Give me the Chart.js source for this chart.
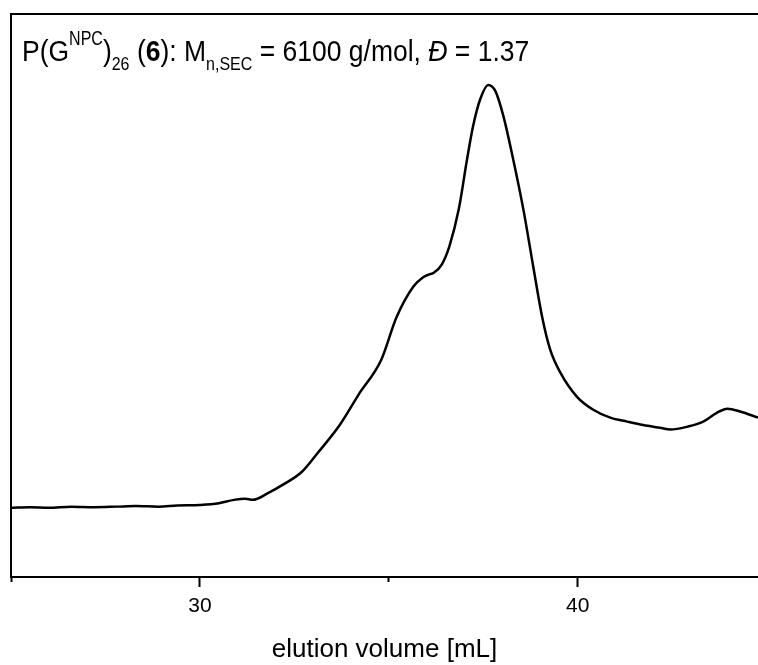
<!DOCTYPE html>
<html>
<head>
<meta charset="utf-8">
<script src="https://cdn.jsdelivr.net/npm/chart.js@4/dist/chart.umd.min.js"></script>
<style>
  html, body { margin: 0; padding: 0; background: #fff; }
  #wrap { width: 758px; height: 665px; }
</style>
</head>
<body>
<div id="wrap"><canvas id="myChart" width="758" height="665"></canvas></div>
<script>
// elution volume in mL, detector signal in arbitrary units (0-100)
let elutionVolume = [25.0, 25.5, 26.0, 26.6, 27.2, 27.8, 28.3, 28.9, 29.4, 30.0, 30.5, 30.9, 31.2, 31.4, 31.8, 32.2, 32.7, 33.1, 33.7, 34.2, 34.8, 35.2, 35.65, 35.9, 36.05, 36.2, 36.4, 36.6, 36.85, 37.07, 37.23, 37.42, 37.63, 37.82, 38.03, 38.29, 38.56, 38.82, 39.06, 39.27, 39.54, 39.98, 40.41, 40.86, 41.31, 41.73, 42.18, 42.45, 42.9, 43.32, 43.69, 43.96, 44.3, 44.77];
let signal = [12.3, 12.4, 12.3, 12.5, 12.4, 12.5, 12.6, 12.5, 12.7, 12.8, 13.1, 13.7, 13.9, 13.7, 14.9, 16.4, 18.7, 21.9, 27.0, 32.4, 38.6, 46.1, 51.6, 53.2, 53.7, 54.1, 55.5, 58.7, 65.3, 74.2, 80.1, 84.9, 87.4, 86.3, 81.9, 74.2, 65.3, 55.2, 46.1, 40.4, 36.3, 32.0, 29.7, 28.3, 27.6, 27.0, 26.5, 26.2, 26.7, 27.6, 29.2, 29.9, 29.4, 28.3];

let xTicksLabelled = [30, 40];

let points = [];
elutionVolume.forEach((v, i) => {
  points.push({ x: v, y: signal[i] });
});

const FONT = "'Liberation Sans', Arial, sans-serif";

// top-left annotation with sub/superscripts (text in the figure is a bit tall/narrow)
const headerText = {
  id: 'headerText',
  afterDraw(chart) {
    const ctx = chart.ctx;
    const parts = [
      { t: 'P(G', size: 26.5, dy: 0 },
      { t: 'NPC', size: 16, dy: -16, sy: 1.3 },
      { t: ')', size: 26.5, dy: 0 },
      { t: '26', size: 16, dy: 9, sy: 1.1 },
      { t: ' (', size: 26.5, dy: 0 },
      { t: '6', size: 26.5, dy: 0, style: 'bold ' },
      { t: '): M', size: 26.5, dy: 0 },
      { t: 'n,SEC', size: 16, dy: 9, sy: 1.1 },
      { t: ' = 6100 g/mol, ', size: 26.5, dy: 0 },
      { t: 'Đ', size: 26.5, dy: 0, style: 'italic ' },
      { t: ' = 1.37', size: 26.5, dy: 0 }
    ];
    let x = 22;
    const base = 61;
    ctx.save();
    ctx.fillStyle = '#000';
    ctx.textBaseline = 'alphabetic';
    ctx.textAlign = 'left';
    parts.forEach(p => {
      ctx.font = (p.style || '') + p.size + 'px ' + FONT;
      ctx.save();
      ctx.translate(x, base + p.dy);
      ctx.scale(1, p.sy || 1.12);
      ctx.fillText(p.t, 0, 0);
      ctx.restore();
      x += ctx.measureText(p.t).width;
    });
    ctx.restore();
  }
};

const config = {
  type: 'line',
  data: {
    datasets: [{
      data: points,
      borderColor: '#000',
      borderWidth: 2.5,
      pointRadius: 0,
      fill: false,
      cubicInterpolationMode: 'monotone'
    }]
  },
  options: {
    responsive: false,
    animation: false,
    layout: { padding: 0 },
    plugins: { legend: { display: false }, tooltip: { enabled: false } },
    scales: {
      // short minor ticks at 25 and 35, zero height so it sits on the chart edge
      xMinor: {
        type: 'linear',
        position: 'bottom',
        weight: 0,
        min: 25,
        max: 44.77,
        afterFit: s => { s.height = 0; },
        ticks: { display: false, stepSize: 5, includeBounds: false },
        grid: {
          display: true,
          drawOnChartArea: false,
          tickLength: 5,
          tickWidth: 2,
          tickColor: c => (c.tick && c.tick.value % 10 !== 0) ? '#000' : 'rgba(0,0,0,0)'
        },
        border: { display: false }
      },
      x: {
        type: 'linear',
        position: 'bottom',
        weight: 1,
        min: 25,
        max: 44.77,
        afterFit: s => { s.height = 88; },
        ticks: {
          stepSize: 5,
          includeBounds: false,
          autoSkip: false,
          maxRotation: 0,
          padding: 7,
          color: '#000',
          font: { family: FONT, size: 21 },
          callback: v => xTicksLabelled.includes(v) ? v : ''
        },
        grid: {
          display: true,
          drawOnChartArea: false,
          tickLength: 10,
          tickWidth: 2,
          tickColor: c => (c.tick && c.tick.value % 10 === 0) ? '#000' : 'rgba(0,0,0,0)'
        },
        border: { display: true, color: '#000', width: 2 },
        title: {
          display: true,
          text: 'elution volume [mL]',
          color: '#000',
          font: { family: FONT, size: 26 },
          padding: { top: 0, bottom: 0 }
        }
      },
      xTop: {
        type: 'linear',
        position: 'top',
        min: 25,
        max: 44.77,
        afterFit: s => { s.height = 14; },
        ticks: { display: false },
        grid: { display: false, drawTicks: false },
        border: { display: true, color: '#000', width: 2 }
      },
      y: {
        min: 0,
        max: 100,
        afterFit: s => { s.width = 11; },
        ticks: { display: false },
        grid: { display: false, drawTicks: false },
        border: { display: true, color: '#000', width: 2 }
      }
    }
  },
  plugins: [headerText]
};

const myChart = new Chart(document.getElementById('myChart'), config);
</script>
</body>
</html>
